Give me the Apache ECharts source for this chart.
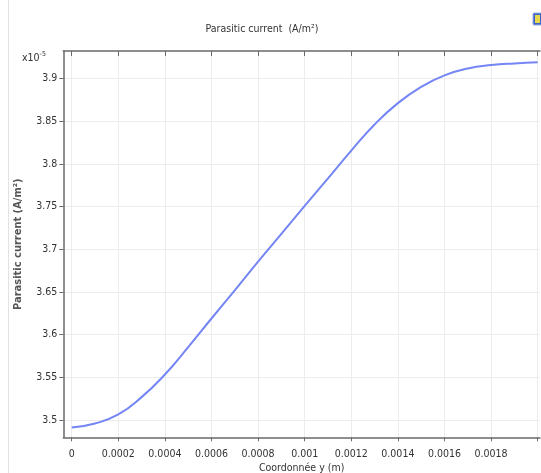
<!DOCTYPE html>
<html>
<head>
<meta charset="utf-8">
<script src="https://cdn.jsdelivr.net/npm/echarts@6/dist/echarts.min.js"></script>
<style>
html,body{margin:0;padding:0;background:#fff;}
#chart{width:541px;height:473px;}
</style>
</head>
<body>
<div id="chart"></div>
<script>
// x positions (m)
const xValues = [0, 0.0001, 0.0002, 0.0003, 0.0004, 0.0005, 0.0006, 0.0007, 0.0008, 0.0009, 0.001,
                 0.0011, 0.0012, 0.0013, 0.0014, 0.0015, 0.0016, 0.0017, 0.0018, 0.0019, 0.002];
// parasitic current, units of 1e-5 A/m^2
const currentValues = [3.4915, 3.4962, 3.5067, 3.527, 3.5535, 3.5856, 3.619, 3.652, 3.6855, 3.718, 3.7508,
                       3.783, 3.8155, 3.846, 3.871, 3.890, 3.9035, 3.9115, 3.9155, 3.9175, 3.9187];
const xTickValues = [0, 0.0002, 0.0004, 0.0006, 0.0008, 0.001, 0.0012, 0.0014, 0.0016, 0.0018, 0.002];
const xLabelValues = [0, 0.0002, 0.0004, 0.0006, 0.0008, 0.001, 0.0012, 0.0014, 0.0016, 0.0018];
const yTickValues = [3.5, 3.55, 3.6, 3.65, 3.7, 3.75, 3.8, 3.85, 3.9];
const yLabels = ['3.5', '3.55', '3.6', '3.65', '3.7', '3.75', '3.8', '3.85', '3.9'];

const chart = echarts.init(document.getElementById('chart'), null, {renderer: 'canvas'});
const FONT = '"DejaVu Sans Condensed", "DejaVu Sans", sans-serif';
const axisColor = '#6a6a6a';
const gridColor = '#ececec';

const seriesData = xValues.map((x, i) => [x, currentValues[i]]);

chart.setOption({
  animation: false,
  backgroundColor: '#ffffff',
  textStyle: {fontFamily: FONT},
  grid: {left: 63.3, right: 1, top: 51, bottom: 35.7, containLabel: false, outerBoundsMode: 'none'},
  xAxis: [{
    type: 'value',
    min: -0.000036,
    max: 0.00201,
    position: 'bottom',
    name: 'Coordonnée y (m)',
    nameLocation: 'middle',
    nameGap: 25,
    nameMoveOverlap: false,
    nameTextStyle: {fontFamily: FONT, fontSize: 10.5, color: '#333'},
    axisLine: {show: true, onZero: false, lineStyle: {color: axisColor, width: 1.5}},
    axisTick: {show: true, inside: false, length: 4, customValues: xTickValues, lineStyle: {color: axisColor}},
    axisLabel: {show: true, customValues: xLabelValues, fontFamily: FONT, fontSize: 10.5, color: '#333', margin: 11,
                formatter: v => String(Number(v.toPrecision(6)))},
    splitLine: {show: true, lineStyle: {color: gridColor, width: 1}}
  }, {
    type: 'value',
    min: -0.000036,
    max: 0.00201,
    position: 'top',
    axisLine: {show: true, onZero: false, lineStyle: {color: axisColor, width: 1.5}},
    axisTick: {show: true, inside: true, length: 5, customValues: xTickValues, lineStyle: {color: axisColor}},
    axisLabel: {show: false},
    splitLine: {show: false}
  }],
  yAxis: {
    type: 'value',
    min: 3.48,
    max: 3.932,
    name: 'Parasitic current (A/m²)',
    nameLocation: 'middle',
    nameGap: 40,
    nameMoveOverlap: false,
    nameTextStyle: {fontFamily: FONT, fontSize: 11, fontWeight: 'bold', color: '#555'},
    axisLine: {show: true, onZero: false, lineStyle: {color: axisColor, width: 1.5}},
    axisTick: {show: true, inside: false, length: 4, customValues: yTickValues, lineStyle: {color: axisColor}},
    axisLabel: {show: true, customValues: yTickValues, fontFamily: FONT, fontSize: 10.5, color: '#333', margin: 6,
                formatter: v => yLabels[yTickValues.findIndex(t => Math.abs(t - v) < 1e-6)] ?? String(v)},
    splitLine: {show: true, lineStyle: {color: gridColor, width: 1}}
  },
  series: [{
    type: 'line',
    data: seriesData,
    smooth: 0.5,
    showSymbol: false,
    lineStyle: {color: '#7485f4', width: 2},
    itemStyle: {color: '#7485f4'}
  }],
  graphic: [
    {type: 'line', shape: {x1: 8.5, y1: 0, x2: 8.5, y2: 473}, style: {stroke: '#e2e2e2', lineWidth: 1}},
    {type: 'text', x: 262, y: 29, style: {text: 'Parasitic current  (A/m²)', font: '10.5px "DejaVu Sans Condensed", "DejaVu Sans"', fill: '#333', align: 'center', verticalAlign: 'middle'}},
    {type: 'text', x: 22, y: 58, style: {
      text: '{a|x10}{b|-5}',
      rich: {a: {fontFamily: FONT, fontSize: 10.5, fill: '#333'}, b: {fontFamily: FONT, fontSize: 7, fill: '#333', verticalAlign: 'bottom', padding: [0, 0, 7, 0]}},
      verticalAlign: 'middle'
    }},
    {type: 'rect', shape: {x: 533, y: 13, width: 9, height: 12, r: 1}, style: {fill: '#3a64c8', stroke: '#9aaed8'}},
    {type: 'rect', shape: {x: 535, y: 15, width: 5, height: 8}, style: {fill: '#e8d84a'}}
  ]
});
</script>
</body>
</html>
